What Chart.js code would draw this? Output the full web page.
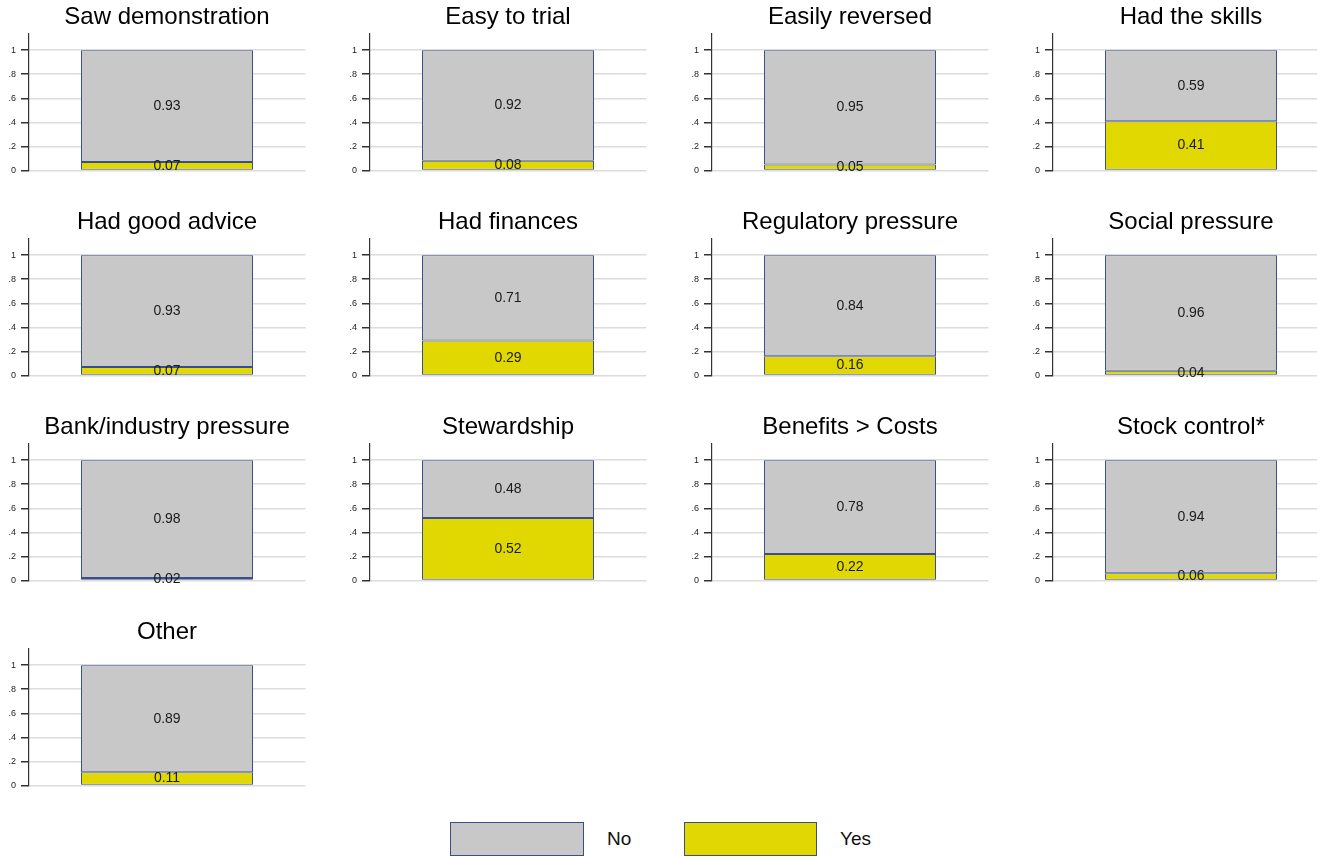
<!DOCTYPE html>
<html>
<head>
<meta charset="utf-8">
<script src="https://cdn.jsdelivr.net/npm/chart.js@4.4.0/dist/chart.umd.min.js"></script>
<style>
html,body{margin:0;padding:0;background:#fff;}
body{width:1317px;height:857px;overflow:hidden;position:relative;font-family:"Liberation Sans",Arial,sans-serif;}
.panel{position:absolute;}
.swatch{position:absolute;box-sizing:border-box;border:1px solid #3a4f8a;}
.legtext{position:absolute;font-size:19px;color:#111;line-height:20px;}
</style>
</head>
<body>
<div id="grid"></div>
<div class="swatch" style="left:450px;top:822px;width:134px;height:34px;background:#c8c8c8;"></div>
<div class="legtext" style="left:607px;top:829px;">No</div>
<div class="swatch" style="left:684px;top:822px;width:133px;height:34px;background:#e0d800;"></div>
<div class="legtext" style="left:840px;top:829px;">Yes</div>
<script>
const titles = ['Saw demonstration','Easy to trial','Easily reversed','Had the skills',
  'Had good advice','Had finances','Regulatory pressure','Social pressure',
  'Bank/industry pressure','Stewardship','Benefits > Costs','Stock control*','Other'];
const noValues  = [0.93,0.92,0.95,0.59,0.93,0.71,0.84,0.96,0.98,0.48,0.78,0.94,0.89];
const yesValues = [0.07,0.08,0.05,0.41,0.07,0.29,0.16,0.04,0.02,0.52,0.22,0.06,0.11];
const yTicks = [0,0.2,0.4,0.6,0.8,1];
const yTickLabels = ['0','.2','.4','.6','.8','1'];
const seriesNames = ['No','Yes'];

const FONT = '"Liberation Sans", Arial, sans-serif';
const COLORS = {No:'#c8c8c8', Yes:'#e0d800'};
const EDGE = '#3a4f8a';

const valueLabels = {
  id:'valueLabels',
  afterDatasetsDraw(chart){
    const ctx = chart.ctx;
    ctx.save();
    ctx.font = '14px ' + FONT;
    ctx.fillStyle = '#1a1a1a';
    ctx.textAlign = 'center';
    ctx.textBaseline = 'middle';
    chart.data.datasets.forEach((ds,i)=>{
      const meta = chart.getDatasetMeta(i);
      meta.data.forEach((el,j)=>{
        const p = el.getProps(['x','y','base'], true);
        ctx.fillText(ds.data[j].toFixed(2), p.x, (p.y + p.base)/2);
      });
    });
    ctx.restore();
  }
};

const W = 341, H = 185;
const colLeft = [0,341,683,1024];
const grid = document.getElementById('grid');

titles.forEach((t,k)=>{
  const r = Math.floor(k/4), c = k%4;
  const div = document.createElement('div');
  div.className = 'panel';
  div.style.left = colLeft[c] + 'px';
  div.style.top = (205*r) + 'px';
  div.style.width = W + 'px';
  div.style.height = H + 'px';
  const cv = document.createElement('canvas');
  cv.width = W; cv.height = H;
  div.appendChild(cv);
  grid.appendChild(div);

  new Chart(cv, {
    type:'bar',
    data:{
      labels:[''],
      datasets:[
        {label:seriesNames[1], data:[yesValues[k]], backgroundColor:COLORS.Yes, borderColor:EDGE, borderWidth:1, borderSkipped:false},
        {label:seriesNames[0], data:[noValues[k]], backgroundColor:COLORS.No, borderColor:EDGE, borderWidth:1, borderSkipped:false}
      ]
    },
    options:{
      responsive:false,
      animation:false,
      devicePixelRatio:1,
      layout:{padding:{left:0, right:W-305.5, top:0, bottom:H-170.5}},
      datasets:{bar:{categoryPercentage:1, barPercentage:0.621}},
      plugins:{
        legend:{display:false},
        tooltip:{enabled:false},
        title:{display:true, text:t, fullSize:false, color:'#000',
          font:{size:24, family:FONT, weight:'normal'}, padding:{top:2.5, bottom:2}}
      },
      scales:{
        x:{display:false, stacked:true},
        y:{
          stacked:true, min:0, max:1.14,
          afterBuildTicks:s=>{ s.ticks = yTicks.map(v=>({value:v})); },
          afterFit:s=>{ s.width = 28.5; s.paddingTop = 0; s.paddingBottom = 0; },
          ticks:{ callback:(v,i)=>yTickLabels[i], font:{size:9, family:FONT}, color:'#222', padding:5 },
          grid:{ color:'#dcdcdc', lineWidth:1.5, tickColor:'#333', tickLength:7.5, drawTicks:true },
          border:{ display:true, color:'#333', width:1.2 }
        }
      }
    },
    plugins:[valueLabels]
  });
});
</script>
</body>
</html>
